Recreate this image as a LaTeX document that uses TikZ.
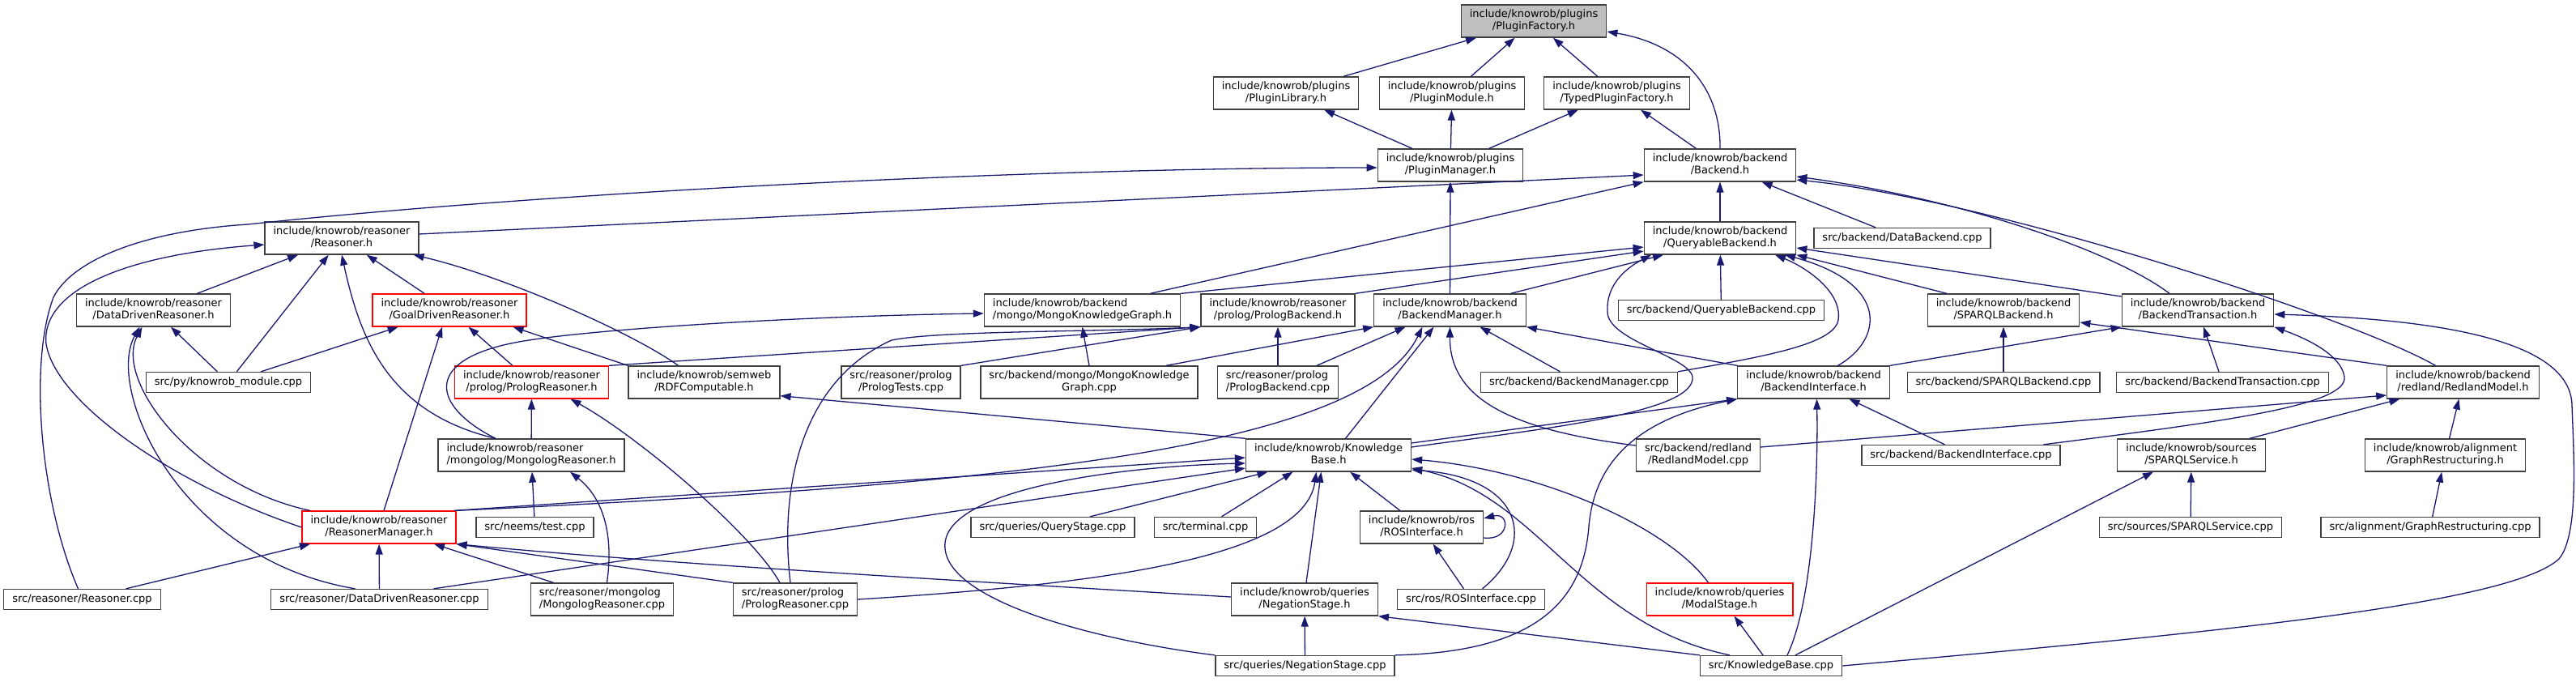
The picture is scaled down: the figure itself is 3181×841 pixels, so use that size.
\documentclass[tikz,border=0pt]{standalone}
\usepackage{fontspec}
\setmainfont{DejaVu Sans}
\usetikzlibrary{arrows.meta}
\definecolor{edgeblue}{HTML}{191970}
\definecolor{boxline}{HTML}{404040}
\newcommand{\dox}{\fontsize{13}{15}\selectfont}
\newcommand{\twol}[2]{\begin{tabular}{@{}c@{}}\multicolumn{1}{@{}l@{}}{#1}\\#2\end{tabular}}

\begin{document}
\begin{tikzpicture}[x=1pt, y=-1pt,
	fnode/.style={draw=boxline, line width=1.3pt, fill=white, font=\dox, inner xsep=10.5pt, inner ysep=0pt, minimum height=25pt},
	hfnode/.style={fnode, minimum height=40pt},
	trunc/.style={draw=red},
	root/.style={fill=black!25},
	dep/.style={edgeblue, line width=1.3pt, -{Triangle[length=13pt,width=9pt]}}]
	
	\path[use as bounding box, fill=white] (0,0) rectangle (3181,841);
	
	% Headers (top rows)
	\node[hfnode, root] (PF) at (1894,26) {\twol{include/knowrob/plugins}{/PluginFactory.h}};
	\node[hfnode] (PL) at (1588,115) {\twol{include/knowrob/plugins}{/PluginLibrary.h}};
	\node[hfnode] (PM) at (1793,115) {\twol{include/knowrob/plugins}{/PluginModule.h}};
	\node[hfnode] (TPF) at (1996.5,115) {\twol{include/knowrob/plugins}{/TypedPluginFactory.h}};
	\node[hfnode] (PMgr) at (1791,204) {\twol{include/knowrob/plugins}{/PluginManager.h}};
	\node[hfnode] (BE) at (2124,204) {\twol{include/knowrob/backend}{/Backend.h}};
	\node[hfnode] (RS) at (422,294) {\twol{include/knowrob/reasoner}{/Reasoner.h}};
	\node[hfnode] (QB) at (2124,294) {\twol{include/knowrob/backend}{/QueryableBackend.h}};
	\node[fnode] (DBcpp) at (2349,294) {src/backend/DataBackend.cpp};
	
	% Row 4
	\node[hfnode] (DDR) at (189.5,383) {\twol{include/knowrob/reasoner}{/DataDrivenReasoner.h}};
	\node[hfnode, trunc] (GDR) at (555,383) {\twol{include/knowrob/reasoner}{/GoalDrivenReasoner.h}};
	\node[hfnode] (MKG) at (1336.5,383) {\twol{include/knowrob/backend}{/mongo/MongoKnowledgeGraph.h}};
	\node[hfnode] (PBh) at (1578,383) {\twol{include/knowrob/reasoner}{/prolog/PrologBackend.h}};
	\node[hfnode] (BM) at (1790.5,383) {\twol{include/knowrob/backend}{/BackendManager.h}};
	\node[fnode] (QBcpp) at (2125.5,383) {src/backend/QueryableBackend.cpp};
	\node[hfnode] (SB) at (2474,383) {\twol{include/knowrob/backend}{/SPARQLBackend.h}};
	\node[hfnode] (BT) at (2714,383) {\twol{include/knowrob/backend}{/BackendTransaction.h}};
	
	% Row 5
	\node[fnode] (KMcpp) at (282,472) {src/py/knowrob\_module.cpp};
	\node[hfnode, trunc] (PRh) at (656.5,472) {\twol{include/knowrob/reasoner}{/prolog/PrologReasoner.h}};
	\node[hfnode] (RDF) at (869.5,472) {\twol{include/knowrob/semweb}{/RDFComputable.h}};
	\node[hfnode] (PTcpp) at (1112.5,472) {\twol{src/reasoner/prolog}{/PrologTests.cpp}};
	\node[hfnode] (MKGcpp) at (1345,472) {\twol{src/backend/mongo/MongoKnowledge}{Graph.cpp}};
	\node[hfnode] (PBcpp) at (1578,472) {\twol{src/reasoner/prolog}{/PrologBackend.cpp}};
	\node[fnode] (BMcpp) at (1950,472) {src/backend/BackendManager.cpp};
	\node[hfnode] (BI) at (2239.5,472) {\twol{include/knowrob/backend}{/BackendInterface.h}};
	\node[fnode] (SBcpp) at (2474,472) {src/backend/SPARQLBackend.cpp};
	\node[fnode] (BTcpp) at (2744.5,472) {src/backend/BackendTransaction.cpp};
	\node[hfnode] (RM) at (3041.5,472) {\twol{include/knowrob/backend}{/redland/RedlandModel.h}};
	
	% Row 6
	\node[hfnode] (MRh) at (656,562) {\twol{include/knowrob/reasoner}{/mongolog/MongologReasoner.h}};
	\node[hfnode] (KB) at (1640.5,562) {\twol{include/knowrob/Knowledge}{Base.h}};
	\node[hfnode] (RMcpp) at (2097,562) {\twol{src/backend/redland}{/RedlandModel.cpp}};
	\node[fnode] (BIcpp) at (2421.5,562) {src/backend/BackendInterface.cpp};
	\node[hfnode] (SSh) at (2706,562) {\twol{include/knowrob/sources}{/SPARQLService.h}};
	\node[hfnode] (GRh) at (3019.5,562) {\twol{include/knowrob/alignment}{/GraphRestructuring.h}};
	
	% Row 7
	\node[hfnode, trunc] (RMgr) at (468,651) {\twol{include/knowrob/reasoner}{/ReasonerManager.h}};
	\node[fnode] (TEST) at (660.5,651) {src/neems/test.cpp};
	\node[fnode] (QS) at (1300,651) {src/queries/QueryStage.cpp};
	\node[fnode] (TERM) at (1488.5,651) {src/terminal.cpp};
	\node[hfnode] (ROSh) at (1755.5,651) {\twol{include/knowrob/ros}{/ROSInterface.h}};
	\node[fnode] (SScpp) at (2705,651) {src/sources/SPARQLService.cpp};
	\node[fnode] (GRcpp) at (3001,651) {src/alignment/GraphRestructuring.cpp};
	
	% Row 8
	\node[fnode] (Rcpp) at (101.5,740) {src/reasoner/Reasoner.cpp};
	\node[fnode] (DDRcpp) at (468.5,740) {src/reasoner/DataDrivenReasoner.cpp};
	\node[hfnode] (MRcpp) at (743.5,740) {\twol{src/reasoner/mongolog}{/MongologReasoner.cpp}};
	\node[hfnode] (PRcpp) at (982,740) {\twol{src/reasoner/prolog}{/PrologReasoner.cpp}};
	\node[hfnode] (NSh) at (1611,740) {\twol{include/knowrob/queries}{/NegationStage.h}};
	\node[fnode] (ROScpp) at (1816.5,740) {src/ros/ROSInterface.cpp};
	\node[hfnode, trunc] (MSh) at (2123.5,740) {\twol{include/knowrob/queries}{/ModalStage.h}};
	
	% Row 9
	\node[fnode] (NScpp) at (1611.5,822) {src/queries/NegationStage.cpp};
	\node[fnode] (KBcpp) at (2187,822) {src/KnowledgeBase.cpp};
	
	% Plugins
	\draw[dep] (PL) -- (PF);
	\draw[dep] (PM) -- (PF);
	\draw[dep] (TPF) -- (PF);
	\draw[dep] (BE.north) .. controls (2125,110) and (2080,55) .. ([yshift=-13pt]PF.east);
	\draw[dep] (PMgr) -- (PL);
	\draw[dep] (PMgr) -- (PM);
	\draw[dep] (PMgr) -- (TPF);
	\draw[dep] (BE) -- (TPF);
	\draw[dep] (BM) -- (PMgr);
	\draw[dep] ([xshift=-5pt]Rcpp.north) .. controls (50,620) and (35,450) .. (66,367) .. controls (90,320) and (180,285) .. (306,277) .. controls (700,235) and (1300,207) .. ([yshift=-3pt]PMgr.west);
	
	% Backend
	\draw[dep] (QB) -- (BE);
	\draw[dep] (DBcpp) -- (BE);
	\draw[dep] ([yshift=5pt]RS.east) -- ([yshift=-12pt]BE.west);
	\draw[dep] ([xshift=84pt]MKG.north) -- (BE.south west);
	\draw[dep] ([xshift=-35pt]BT.north) .. controls (2610,310) and (2420,245) .. ([yshift=-14pt]BE.east);
	\draw[dep] ([xshift=-34pt]RM.north) .. controls (2900,390) and (2450,245) .. ([yshift=-18pt]BE.east);
	\draw[dep] (QBcpp) -- (QB);
	\draw[dep] (MKG.north east) -- ([yshift=-11pt]QB.west);
	\draw[dep] (PBh.north east) -- ([yshift=-16pt]QB.west);
	\draw[dep] ([xshift=75pt]BM.north) -- ([xshift=-70pt]QB.south);
	\draw[dep] ([yshift=10pt]KB.east) .. controls (1900,530) and (2095,510) .. (2090,465) .. controls (2085,440) and (1985,420) .. (1985,385) .. controls (1983,350) and (2010,330) .. ([xshift=-85pt]QB.south);
	\draw[dep] (BMcpp.north east) .. controls (2180,440) and (2265,425) .. (2270,395) .. controls (2275,360) and (2230,330) .. ([xshift=68pt]QB.south);
	\draw[dep] ([xshift=30pt]BI.north) .. controls (2325,420) and (2335,350) .. ([xshift=80pt]QB.south);
	\draw[dep] ([xshift=-70pt]SB.north) -- (QB.south east);
	\draw[dep] ([yshift=17pt]BT.west) -- ([yshift=-12pt]QB.east);
	
	% Reasoner
	\draw[dep] (DDR) -- (RS);
	\draw[dep] (GDR) -- (RS);
	\draw[dep] (KMcpp) -- (RS);
	\draw[dep] (KMcpp) -- (DDR);
	\draw[dep] (KMcpp) -- (GDR);
	\draw[dep] ([xshift=-44pt]MRh.north) .. controls (480,510) and (445,420) .. (RS.south);
	\draw[dep] ([xshift=-32pt]RDF.north) .. controls (780,410) and (620,340) .. ([xshift=-7pt]RS.south east);
	\draw[dep] (RDF.north west) -- ([xshift=-17pt]GDR.south east);
	\draw[dep] (PRh) -- (GDR);
	\draw[dep] ([xshift=6pt]RMgr.north) -- ([xshift=-9pt]GDR.south);
	\draw[dep] (RMgr.west) .. controls (220,600) and (70,500) .. (57,425) .. controls (50,360) and (150,315) .. ([yshift=-8pt]RS.west);
	\draw[dep] ([xshift=-85pt]RMgr.north) .. controls (240,600) and (140,470) .. ([xshift=-14pt]DDR.south);
	\draw[dep] ([xshift=-30pt]DDRcpp.north) .. controls (220,690) and (130,480) .. ([xshift=-17pt]DDR.south);
	\draw[dep] (MRh) -- (PRh);
	\draw[dep] ([xshift=-44pt]MRh.north) .. controls (530,500) and (520,440) .. (653,420) .. controls (750,405) and (1000,390) .. ([yshift=-4pt]MKG.west);
	\draw[dep] (TEST) -- (MRh);
	\draw[dep] ([xshift=6pt]MRcpp.north) .. controls (758,660) and (745,615) .. ([xshift=48pt]MRh.south);
	\draw[dep] ([xshift=-60pt]MRcpp.north) -- ([xshift=68pt]RMgr.south);
	\draw[dep] (DDRcpp) -- (RMgr);
	\draw[dep] (Rcpp) -- (RMgr);
	\draw[dep] ([xshift=67pt]DDRcpp.north) -- ([yshift=-16pt]KB.west);
	\draw[dep] ([xshift=-3pt]RMgr.north east) -- ([yshift=-3pt]KB.west);
	\draw[dep] (RMgr.north east) .. controls (1200,600) and (1680,560) .. ([xshift=-34pt]BM.south);
	\draw[dep] ([yshift=3pt]NSh.west) .. controls (1100,712) and (800,694) .. (RMgr.south east);
	\draw[dep] (PRcpp.north west) -- (RMgr.south east);
	
	% Prolog
	\draw[dep] (PRh.north east) -- (PBh.south west);
	\draw[dep] (PTcpp.north east) -- (PBh.south west);
	\draw[dep] ([xshift=-6pt]PRcpp.north) .. controls (962,600) and (990,470) .. (1101,420) .. controls (1160,408) and (1350,410) .. (PBh.south west);
	\draw[dep] (PBcpp) -- (PBh);
	\draw[dep] ([xshift=-19pt]PRcpp.north) .. controls (930,660) and (790,540) .. ([xshift=48pt]PRh.south);
	\draw[dep] (PRcpp.east) .. controls (1350,722) and (1610,690) .. ([xshift=-15pt]KB.south);
	\draw[dep] ([xshift=48pt]PBcpp.north) -- ([xshift=-55pt]BM.south);
	\draw[dep] (MKGcpp.north) -- (MKG.south);
	\draw[dep] ([xshift=95pt]MKGcpp.north) -- (BM.south west);
	
	% KnowledgeBase.h
	\draw[dep] (KB.north west) -- ([yshift=4pt]RDF.south east);
	\draw[dep] ([xshift=21pt]KB.north) -- ([xshift=-20pt]BM.south);
	\draw[dep] ([yshift=15pt]KB.east) -- (BI.south west);
	\draw[dep] ([xshift=46pt]QS.north) -- ([xshift=-75pt]KB.south);
	\draw[dep] ([xshift=20pt]TERM.north) -- ([xshift=-44pt]KB.south);
	\draw[dep] ([xshift=2pt]NSh.north) -- ([xshift=-9pt]KB.south);
	\draw[dep] (ROSh) -- (KB);
	\draw[dep] ([yshift=-13pt]ROSh.east) .. controls (1865,668) and (1865,632) .. ([yshift=11pt]ROSh.east);
	\draw[dep] (ROScpp) -- (ROSh);
	\draw[dep] ([xshift=14pt]ROScpp.north) .. controls (1900,670) and (1880,590) .. ([yshift=-18pt]KB.east);
	\draw[dep] ([xshift=-14pt]MSh.north) .. controls (2060,650) and (1900,580) .. ([yshift=-5pt]KB.east);
	\draw[dep] (NScpp) -- (NSh);
	\draw[dep] (NScpp.north west) .. controls (1350,790) and (1160,740) .. (1167,670) .. controls (1175,600) and (1400,575) .. ([yshift=-10pt]KB.west);
	\draw[dep] (NScpp.north east) .. controls (1900,805) and (1955,740) .. (1962,650) .. controls (1968,580) and (2010,520) .. (BI.south west);
	
	% KnowledgeBase.cpp
	\draw[dep] (KBcpp.north west) -- (NSh.south east);
	\draw[dep] ([xshift=-51pt]KBcpp.north) .. controls (1950,770) and (1900,610) .. ([yshift=-16pt]KB.east);
	\draw[dep] ([xshift=-10pt]KBcpp.north) -- ([xshift=18pt]MSh.south);
	\draw[dep] ([xshift=20pt]KBcpp.north) .. controls (2240,740) and (2245,580) .. ([xshift=4pt]BI.south);
	\draw[dep] ([xshift=30pt]KBcpp.north) -- ([xshift=-47pt]SSh.south);
	\draw[dep] (KBcpp.east) .. controls (2750,780) and (3100,745) .. (3160,690) .. controls (3185,660) and (3178,560) .. (3176,500) .. controls (3174,430) and (3050,395) .. ([yshift=-5pt]BT.east);
	
	% Backend implementations
	\draw[dep] (BMcpp) -- (BM);
	\draw[dep] (BI.north west) -- (BM.south east);
	\draw[dep] ([yshift=12pt]RMcpp.west) .. controls (1860,530) and (1790,490) .. (BM.south);
	\draw[dep] ([yshift=10pt]RMcpp.east) -- ([yshift=-16pt]RM.west);
	\draw[dep] ([xshift=-20pt]BIcpp.north) -- ([xshift=44pt]BI.south);
	\draw[dep] ([xshift=102pt]BIcpp.north) .. controls (2750,520) and (2900,500) .. (2895,465) .. controls (2890,435) and (2840,415) .. (BT.south east);
	\draw[dep] (BI.north east) -- (BT.south west);
	\draw[dep] (BTcpp) -- (BT);
	\draw[dep] (SBcpp) -- (SB);
	\draw[dep] (RM.north west) -- ([yshift=-15pt]SB.east);
	\draw[dep] ([xshift=72pt]SSh.north) -- ([xshift=-78pt]RM.south);
	\draw[dep] (GRh) -- (RM);
	\draw[dep] (SScpp) -- (SSh);
	\draw[dep] (GRcpp) -- (GRh);
\end{tikzpicture}
\end{document}
